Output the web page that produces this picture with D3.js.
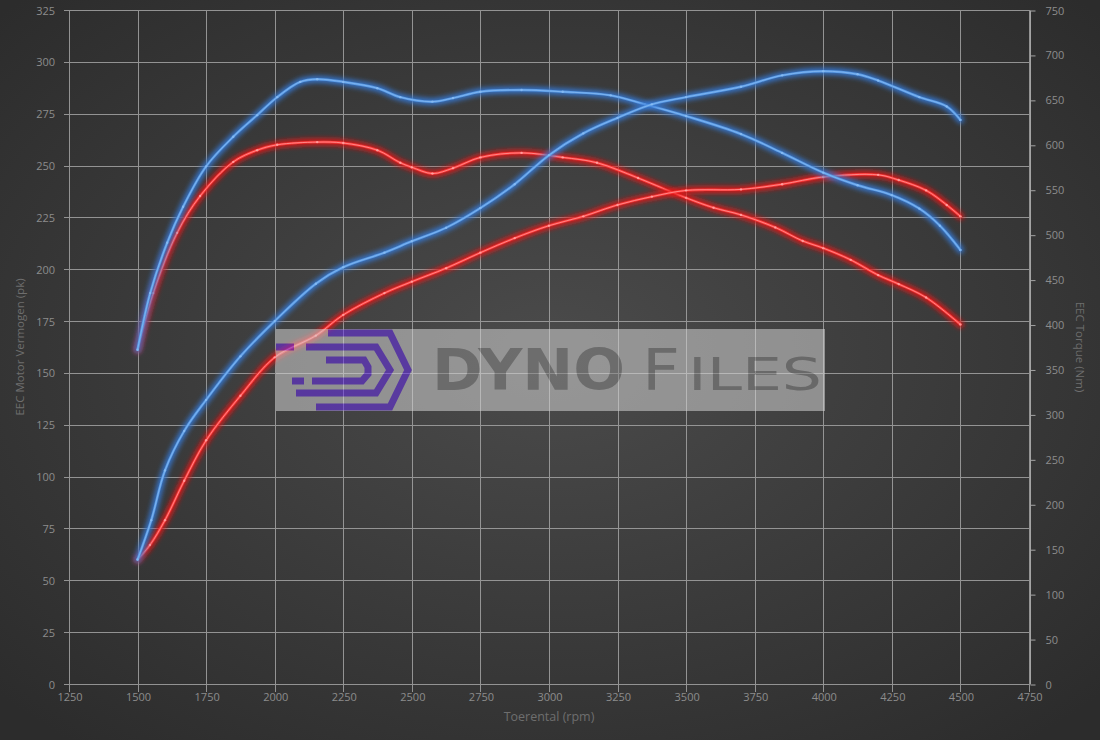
<!DOCTYPE html>
<html>
<head>
<meta charset="utf-8">
<script src="https://cdn.jsdelivr.net/npm/d3@7/dist/d3.min.js"></script>
<style>
  html, body { margin: 0; padding: 0; background: #3a3a3a; }
  svg { display: block; }
</style>
</head>
<body>
<svg id="chart" width="1100" height="740"></svg>
<script>
// ---- data -------------------------------------------------------------
// engine speed ticks and axis ticks
const rpmTicks   = [1250, 1500, 1750, 2000, 2250, 2500, 2750, 3000, 3250, 3500, 3750, 4000, 4250, 4500, 4750];
const powerTicks = [0, 25, 50, 75, 100, 125, 150, 175, 200, 225, 250, 275, 300, 325];
const torqueTicks = [0, 50, 100, 150, 200, 250, 300, 350, 400, 450, 500, 550, 600, 650, 700, 750];

// tuned (blue) power, pk
const tunedPowerRpm = [1500, 1550, 1600, 1670, 1750, 1875, 2000, 2150, 2250, 2400, 2500, 2625, 2750, 2875, 3000, 3125, 3250, 3375, 3500, 3700, 3850, 4000, 4125, 4200, 4350, 4450, 4500];
const tunedPower    = [60, 79, 103, 122, 137, 158, 175, 193, 201, 208, 213.5, 220, 229.5, 241, 255, 265.5, 273, 279.5, 283, 288, 293.5, 295.5, 294, 291, 283, 278.5, 272];

// tuned (blue) torque, Nm
const tunedTorqueRpm = [1500, 1546, 1608, 1666, 1750, 1849, 1936, 2009, 2093, 2155, 2250, 2374, 2458, 2575, 2650, 2750, 2900, 3050, 3225, 3350, 3500, 3700, 3850, 4000, 4125, 4250, 4350, 4425, 4500];
const tunedTorque    = [372, 435, 491, 531, 576, 609, 633, 653, 670, 673, 670, 663, 653, 648, 652, 659, 661, 659, 655, 645, 632, 612, 591, 569, 555, 544, 529, 510, 483];

// stock (red) power, pk
const stockPowerRpm = [1500, 1545, 1600, 1670, 1750, 1875, 2000, 2150, 2250, 2400, 2500, 2625, 2750, 2875, 3000, 3125, 3250, 3375, 3500, 3700, 3850, 4000, 4200, 4275, 4375, 4450, 4500];
const stockPower    = [60, 67, 79, 98, 117.5, 139, 157.5, 168, 178, 188.5, 194, 200.5, 208, 215, 221, 225.5, 231, 235, 238, 238.5, 241, 244.5, 245.5, 243, 238, 231, 225.5];

// stock (red) torque, Nm
const stockTorqueRpm = [1500, 1557, 1644, 1728, 1849, 1936, 2009, 2155, 2250, 2374, 2458, 2500, 2575, 2650, 2750, 2900, 3050, 3175, 3325, 3500, 3600, 3700, 3825, 3925, 4000, 4100, 4200, 4275, 4375, 4500];
const stockTorque    = [372, 435, 502, 543, 581, 594, 600, 603, 602, 594, 580, 575, 568, 574, 586, 591, 586, 580, 563, 541, 530, 522, 508, 493, 485, 472, 455, 445, 430, 400];

// ---- layout ------------------------------------------------------------
const svg = d3.select("#chart");
const W = 1100, H = 740;
const plot = { left: 69, right: 1029, top: 10, bottom: 684 };

const x  = d3.scaleLinear().domain([1250, 4750]).range([plot.left, plot.right]);
const yL = d3.scaleLinear().domain([0, 325]).range([plot.bottom, plot.top]);
const yR = d3.scaleLinear().domain([0, 750]).range([plot.bottom, plot.top]);
const fmt = d3.format("d");

const defs = svg.append("defs");
const bg = defs.append("radialGradient").attr("id", "bg")
  .attr("cx", "50%").attr("cy", "48%").attr("r", "68%");
bg.append("stop").attr("offset", "0%").attr("stop-color", "#4b4b4b");
bg.append("stop").attr("offset", "100%").attr("stop-color", "#2c2c2c");

const glow = defs.append("filter").attr("id", "glow")
  .attr("x", "-10%").attr("y", "-10%").attr("width", "120%").attr("height", "120%");
glow.append("feGaussianBlur").attr("stdDeviation", 2.6);

svg.append("rect").attr("width", W).attr("height", H).attr("fill", "url(#bg)");

// ---- grid & axes -------------------------------------------------------
const grid = svg.append("g").attr("stroke", "#a4a4a4").attr("stroke-width", 1).attr("opacity", 0.85);
grid.selectAll("line.h").data(powerTicks).join("line")
  .attr("x1", plot.left - 5).attr("x2", plot.right)
  .attr("y1", d => Math.round(yL(d)) + 0.5).attr("y2", d => Math.round(yL(d)) + 0.5);
grid.selectAll("line.v").data(rpmTicks).join("line")
  .attr("x1", d => Math.round(x(d)) + 0.5).attr("x2", d => Math.round(x(d)) + 0.5)
  .attr("y1", plot.top).attr("y2", plot.bottom + 8);

const labelFont = "'Open Sans', 'DejaVu Sans', sans-serif";
const tickColor = "#8c8c8c";

// left axis (power)
const leftAxis = svg.append("g").attr("transform", `translate(${plot.left - 5},0.5)`)
  .call(d3.axisLeft(yL).tickValues(powerTicks).tickFormat(fmt).tickSize(0).tickPadding(9));
leftAxis.select(".domain").remove();

// right axis (torque)
const rightAxis = svg.append("g").attr("transform", `translate(${plot.right + 1.5},0.5)`)
  .call(d3.axisRight(yR).tickValues(torqueTicks).tickFormat(fmt).tickSize(5).tickPadding(10));
rightAxis.select(".domain").attr("stroke", "#a4a4a4").attr("d", `M0,${plot.top}V${plot.bottom}`);
rightAxis.selectAll(".tick line").attr("stroke", "#a4a4a4");

// bottom axis (rpm)
const bottomAxis = svg.append("g").attr("transform", `translate(0.5,${plot.bottom + 0.5})`)
  .call(d3.axisBottom(x).tickValues(rpmTicks).tickFormat(fmt).tickSize(0).tickPadding(9));
bottomAxis.select(".domain").remove();

[leftAxis, rightAxis, bottomAxis].forEach(a => a.selectAll("text")
  .attr("fill", tickColor).attr("font-family", labelFont).attr("font-size", 11));

// axis titles
svg.append("text").attr("transform", "translate(24,347) rotate(-90)")
  .attr("text-anchor", "middle").attr("fill", "#6e6e6e")
  .attr("font-family", labelFont).attr("font-size", 11.5).text("EEC Motor Vermogen (pk)");
svg.append("text").attr("transform", "translate(1076,347) rotate(90)")
  .attr("text-anchor", "middle").attr("fill", "#6e6e6e")
  .attr("font-family", labelFont).attr("font-size", 11.5).text("EEC Torque (Nm)");
svg.append("text").attr("x", 549).attr("y", 721)
  .attr("text-anchor", "middle").attr("fill", "#6e6e6e")
  .attr("font-family", labelFont).attr("font-size", 12.5).text("Toerental (rpm)");

// ---- curves ------------------------------------------------------------
const series = [
  { rpm: stockTorqueRpm, val: stockTorque, y: yR, glow: "#e81414", core: "#ff3a3a", inner: "#ffb0b0" },
  { rpm: stockPowerRpm,  val: stockPower,  y: yL, glow: "#e81414", core: "#ff3a3a", inner: "#ffb0b0" },
  { rpm: tunedTorqueRpm, val: tunedTorque, y: yR, glow: "#3579d6", core: "#5b9ce6", inner: "#8fc0f5" },
  { rpm: tunedPowerRpm,  val: tunedPower,  y: yL, glow: "#3579d6", core: "#5b9ce6", inner: "#8fc0f5" }
];

const curves = svg.append("g");
series.forEach(s => {
  const pts = s.rpm.map((r, i) => [x(r), s.y(s.val[i])]);
  const line = d3.line().curve(d3.curveCatmullRom.alpha(0.5));
  const g = curves.append("g");
  g.append("path").attr("d", line(pts)).attr("fill", "none")
    .attr("stroke", s.glow).attr("stroke-width", 7).attr("stroke-opacity", 0.9)
    .attr("stroke-linecap", "round").attr("filter", "url(#glow)");
  g.append("path").attr("d", line(pts)).attr("fill", "none")
    .attr("stroke", s.core).attr("stroke-width", 2.4).attr("stroke-linecap", "round");
  g.append("path").attr("d", line(pts)).attr("fill", "none")
    .attr("stroke", s.inner).attr("stroke-width", 0.8).attr("stroke-opacity", 0.8);
  g.selectAll("circle").data(pts).join("circle")
    .attr("cx", d => d[0]).attr("cy", d => d[1]).attr("r", 1.2)
    .attr("fill", s.inner).attr("opacity", 0.7);
});

// ---- watermark ---------------------------------------------------------
const wm = svg.append("g").attr("opacity", 0.55).attr("transform", "translate(276,329)");
wm.append("rect").attr("width", 549).attr("height", 82).attr("fill", "#d3d3d3");

const logo = wm.append("g").attr("fill", "none").attr("stroke", "#6b32eb")
  .attr("stroke-width", 7).attr("stroke-linejoin", "miter");
logo.append("path").attr("d", "M52,4 H114 L132,41 L114,78 H40");
logo.append("path").attr("d", "M30,18 H100 L114,41 L100,64 H20");
logo.append("path").attr("d", "M50,31 H88 L92,38 V45 L86,52 H36");
logo.append("path").attr("d", "M0,18 H18");
logo.append("path").attr("d", "M16,52 H28");

const wordAttrs = t => t.attr("fill", "#8a8a8a").attr("font-family", "'DejaVu Sans', sans-serif")
  .attr("y", 61).attr("lengthAdjust", "spacingAndGlyphs");
wm.append("text").call(wordAttrs).attr("x", 156).attr("font-size", 57).attr("font-weight", "bold")
  .attr("textLength", 193).text("DYNO");
wm.append("text").call(wordAttrs).attr("x", 366).attr("font-size", 57)
  .attr("textLength", 38).text("F");
wm.append("text").call(wordAttrs).attr("x", 412).attr("font-size", 44)
  .attr("textLength", 134).text("ILES");
</script>
</body>
</html>
